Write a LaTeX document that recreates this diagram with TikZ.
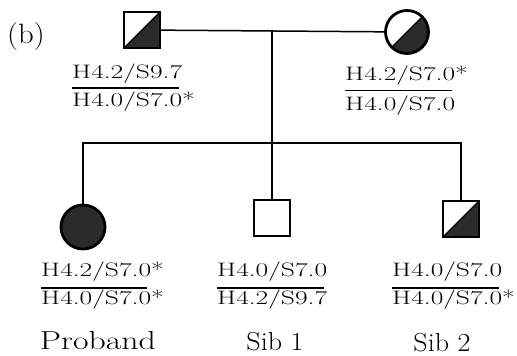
\documentclass[tikz,border=0pt]{standalone}
\usepackage{graphicx}
\definecolor{stip}{gray}{0.17}
\newcommand{\gtx}[1]{\scalebox{1.41}[1]{#1}}
\newcommand{\ptx}[1]{\scalebox{1.3}[1]{#1}}
\newcommand{\ntx}[1]{\scalebox{1.08}[1]{#1}}
\begin{document}
\begin{tikzpicture}[x=1pt,y=-1pt,
  sym/.style={draw=black,line width=2.8pt,inner sep=0pt,outer sep=0pt,minimum size=36pt},
  male/.style={sym,rectangle},
  female/.style={sym,circle,minimum size=43pt},
  halfshade/.style={path picture={%
    \fill[stip] (path picture bounding box.south west) -- (path picture bounding box.south east) -- (path picture bounding box.north east) -- cycle;
    \draw[line width=1.2pt] (path picture bounding box.south west) -- (path picture bounding box.north east);}},
  conn/.style={line width=1.5pt},
  geno/.style={inner sep=0pt,anchor=base west,font=\fontsize{19.5}{21}\selectfont},
  rulebar/.style={line width=1.8pt},
  sibname/.style={inner sep=0pt,anchor=base,font=\fontsize{26}{28}\selectfont}]
\useasboundingbox (0,0) rectangle (517,356);

\node[inner sep=0pt,anchor=base west,font=\fontsize{28}{30}\selectfont] (lab) at (7,43) {\scalebox{1.1}[1]{(b)}};

% parents
\node[male,halfshade] (father) at (142,30) {};
\node[female,halfshade] (mother) at (407,32) {};
\draw[conn] (father) -- (mother);
\coordinate (mm) at (272,31);
\coordinate (sm) at (272,143);

% children
\node[female,fill=stip,minimum size=44pt] (proband) at (83,227) {};
\node[male] (sib1) at (272,218) {};
\node[male,halfshade] (sib2) at (461,219) {};

\draw[conn] (mm) -- (sm);
\draw[conn] (proband.north) -- (proband.north |- sm) -- (sib2.north |- sm) -- (sib2.north);
\draw[conn] (sib1.north) -- (sib1.north |- sm);

% genotypes
\node[geno] (fT) at (72,78) {\gtx{H4.2/S9.7}};
\node[geno] (fB) at (72,106) {\gtx{H4.0/S7.0*}};
\draw[rulebar] (72,88) -- (179,88);

\node[geno] (mT) at (345,80) {\gtx{H4.2/S7.0*}};
\node[geno] (mB) at (345,110) {\gtx{H4.0/S7.0}};
\draw[rulebar] (345,90.5) -- (452,90.5);

\node[geno] (pT) at (41,276) {\gtx{H4.2/S7.0*}};
\node[geno] (pB) at (41,304) {\gtx{H4.0/S7.0*}};
\draw[rulebar] (41,288) -- (147,288);

\node[geno] (s1T) at (217,276) {\gtx{H4.0/S7.0}};
\node[geno] (s1B) at (217,304) {\gtx{H4.2/S9.7}};
\draw[rulebar] (217,288) -- (324,288);

\node[geno] (s2T) at (392,276) {\gtx{H4.0/S7.0}};
\node[geno] (s2B) at (392,304) {\gtx{H4.0/S7.0*}};
\draw[rulebar] (392,288) -- (499,288);

% names
\node[sibname] (pN) at (98,349) {\ptx{Proband}};
\node[sibname] (s1N) at (275,350) {\ntx{Sib 1}};
\node[sibname] (s2N) at (442,351) {\ntx{Sib 2}};
\end{tikzpicture}
\end{document}
